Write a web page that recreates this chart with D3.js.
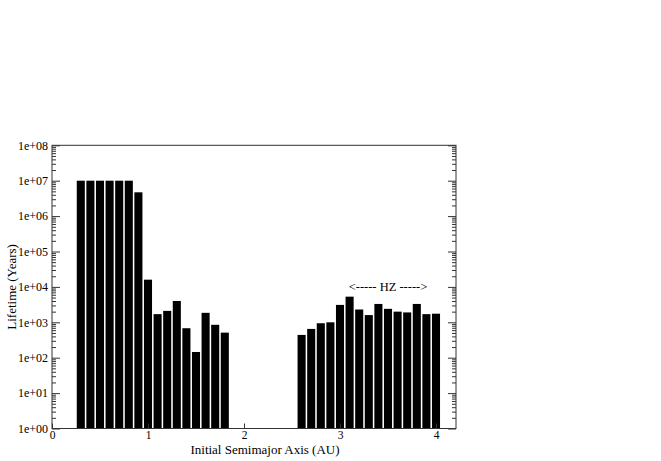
<!DOCTYPE html>
<html lang="en">
  <head>
    <meta charset="UTF-8" />
    <title>Lifetime vs semimajor axis</title>
    <script src="https://cdn.jsdelivr.net/npm/d3@7/dist/d3.min.js"></script>
    <style>
      html,
      body {
        margin: 0;
        padding: 0;
        background: #fff;
      }
      text {
        font-family: 'Liberation Serif', 'Times New Roman', serif;
        fill: #000;
      }
    </style>
  </head>
  <body>
    <script>
      // initial semimajor axis (AU) and lifetime (years)
      const innerAxis = [0.3, 0.4, 0.5, 0.6, 0.7, 0.8, 0.9, 1.0, 1.1, 1.2, 1.3, 1.4, 1.5, 1.6, 1.7, 1.8];
      const innerLife = [1e7, 1e7, 1e7, 1e7, 1e7, 1e7, 4.7e6, 1.6e4, 1700, 2100, 4000, 680, 145, 1850, 850, 510];
      const outerAxis = [2.6, 2.7, 2.8, 2.9, 3.0, 3.1, 3.2, 3.3, 3.4, 3.5, 3.6, 3.7, 3.8, 3.9, 4.0];
      const outerLife = [440, 650, 940, 1000, 3100, 5300, 2300, 1600, 3300, 2400, 2000, 1900, 3300, 1700, 1750];
      const xTicks = [0, 1, 2, 3, 4];
      const yTicks = [1, 10, 100, 1e3, 1e4, 1e5, 1e6, 1e7, 1e8];

      const width = 661,
        height = 461;
      const plotLeft = 52,
        plotRight = 456,
        plotTop = 145.3,
        plotBottom = 428.5;

      const svg = d3
        .select('body')
        .append('svg')
        .attr('width', width)
        .attr('height', height);

      const x = d3.scaleLinear().domain([0, 4]).range([plotLeft, 436]);
      const y = d3.scaleLog().domain([1, 1e8]).range([plotBottom, plotTop]);

      const bars = innerAxis
        .map((a, i) => ({ a, v: innerLife[i] }))
        .concat(outerAxis.map((a, i) => ({ a, v: outerLife[i] })));

      const halfW = 0.042;
      svg
        .append('g')
        .selectAll('rect')
        .data(bars)
        .join('rect')
        .attr('x', d => x(d.a - halfW))
        .attr('width', d => x(d.a + halfW) - x(d.a - halfW))
        .attr('y', d => y(d.v))
        .attr('height', d => y(1) - y(d.v))
        .attr('fill', '#000');

      // minor log ticks
      const minor = [];
      for (let e = 0; e < 8; e++) {
        for (let m = 2; m <= 9; m++) minor.push(m * Math.pow(10, e));
      }

      const fmt = d => '1e+' + String(Math.round(Math.log10(d))).padStart(2, '0');

      const yLeft = svg
        .append('g')
        .attr('transform', `translate(${plotLeft},0)`)
        .call(d3.axisLeft(y).tickValues(yTicks).tickFormat(fmt).tickSize(-8).tickPadding(4));
      yLeft.selectAll('text').style('font-size', '12px').attr('x', -4);

      svg
        .append('g')
        .attr('transform', `translate(${plotLeft},0)`)
        .call(d3.axisLeft(y).tickValues(minor).tickFormat('').tickSize(-4));

      svg
        .append('g')
        .attr('transform', `translate(${plotRight},0)`)
        .call(d3.axisRight(y).tickValues(yTicks).tickFormat('').tickSize(-8));

      svg
        .append('g')
        .attr('transform', `translate(${plotRight},0)`)
        .call(d3.axisRight(y).tickValues(minor).tickFormat('').tickSize(-4));

      const xAxis = svg
        .append('g')
        .attr('transform', `translate(0,${plotBottom})`)
        .call(d3.axisBottom(x).tickValues(xTicks).tickFormat(d3.format('d')).tickSize(-5));
      xAxis.selectAll('text').style('font-size', '11.5px').attr('y', 2.5).attr('dy', '0.71em');

      svg.selectAll('.domain').remove();
      svg.selectAll('.tick line').attr('stroke', '#333');

      svg
        .append('rect')
        .attr('x', plotLeft)
        .attr('y', plotTop)
        .attr('width', plotRight - plotLeft)
        .attr('height', plotBottom - plotTop)
        .attr('fill', 'none')
        .attr('stroke', '#333')
        .attr('stroke-width', 1);

      svg
        .append('text')
        .attr('x', 265)
        .attr('y', 454)
        .attr('text-anchor', 'middle')
        .style('font-size', '13px')
        .text('Initial Semimajor Axis (AU)');

      svg
        .append('text')
        .attr('transform', `translate(16,${(plotTop + plotBottom) / 2}) rotate(-90)`)
        .attr('text-anchor', 'middle')
        .style('font-size', '13px')
        .text('Lifetime (Years)');

      svg
        .append('text')
        .attr('x', x(3.5))
        .attr('y', y(1e4) + 4)
        .attr('text-anchor', 'middle')
        .style('font-size', '12.5px')
        .text('<----- HZ ----->');
    </script>
  </body>
</html>
